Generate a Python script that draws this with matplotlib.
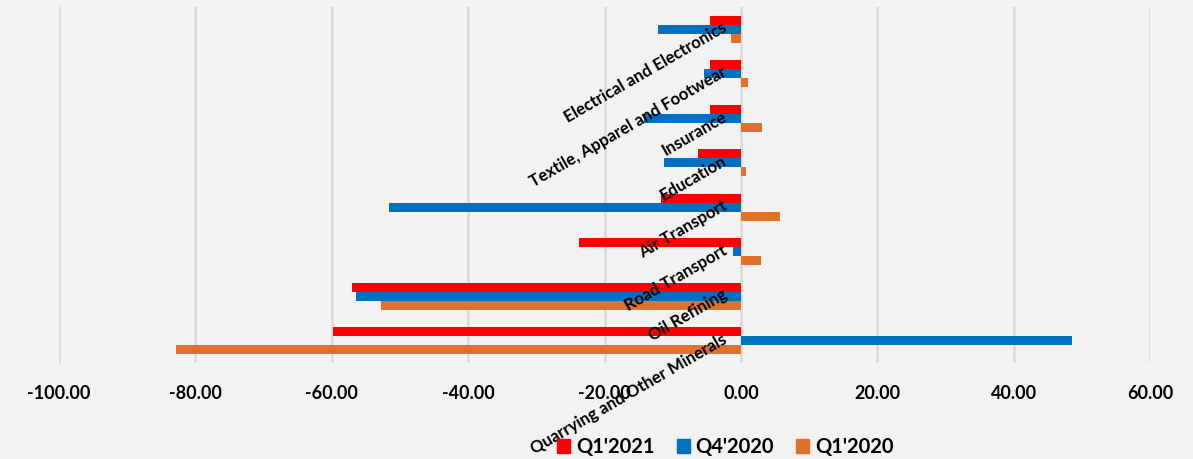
import numpy as np
import matplotlib.pyplot as plt
from matplotlib.transforms import ScaledTranslation
from matplotlib.patches import Patch

# sectors, listed top to bottom as in the chart
categories = ["Electrical and Electronics", "Textile, Apparel and Footwear", "Insurance",
              "Education", "Air Transport", "Road Transport", "Oil Refining",
              "Quarrying and Other Minerals"]
q1_2021 = [-4.5, -4.5, -4.6, -6.3, -11.7, -23.8, -57.1, -59.8]
q4_2020 = [-12.1, -5.4, -14.2, -11.3, -51.6, -1.2, -56.5, 48.5]
q1_2020 = [-1.5, 1.1, 3.1, 0.8, 5.8, 2.9, -52.8, -82.8]
series_names = ["Q1'2021", "Q4'2020", "Q1'2020"]
colors = ["#ff0000", "#0070c0", "#e0712b"]
xticks = [-100, -80, -60, -40, -20, 0, 20, 40, 60]

plt.rcParams['font.family'] = ['Lato', 'DejaVu Sans']

fig = plt.figure(figsize=(11.93, 4.59), dpi=100)
fig.patch.set_facecolor("#f2f2f2")
ax = fig.add_axes([0.0495, 0.209, 0.9145, 0.776])
ax.set_facecolor("#f2f2f2")

y = np.arange(len(categories))
h = 0.2
for k, (vals, c) in enumerate(zip([q1_2021, q4_2020, q1_2020], colors)):
    ax.barh(y + (k - 1) * h, vals, height=h, color=c, zorder=3)

ax.set_xlim(-100, 60)
ax.set_ylim(len(categories) - 0.5, -0.5)
ax.set_xticks(xticks)
ax.set_xticklabels([f"{v:.2f}" for v in xticks], fontsize=13, fontweight="bold")
ax.tick_params(axis="x", length=0, pad=16)
ax.set_yticks([])
ax.grid(axis="x", color="#d9d9d9", lw=1.8, zorder=0)
for s in ax.spines.values():
    s.set_visible(False)

# category labels sit on the zero line, rotated like the Excel axis
off = ScaledTranslation(-14 / 72, 7 / 72, fig.dpi_scale_trans)
for i, name in enumerate(categories):
    ax.text(0, i, name, transform=ax.transData + off, rotation=30,
            rotation_mode="anchor", ha="right", va="top",
            fontsize=12.1, fontweight="bold", zorder=4)

handles = [Patch(color=c, label=n) for c, n in zip(colors, series_names)]
fig.legend(handles=handles, loc="center", bbox_to_anchor=(0.608, 0.026), ncol=3,
           frameon=False, prop={"size": 14.5, "weight": "bold"},
           handlelength=0.65, handleheight=0.65, handletextpad=0.3, columnspacing=1.1)

fig.savefig("out.png", dpi=100, facecolor=fig.get_facecolor())
